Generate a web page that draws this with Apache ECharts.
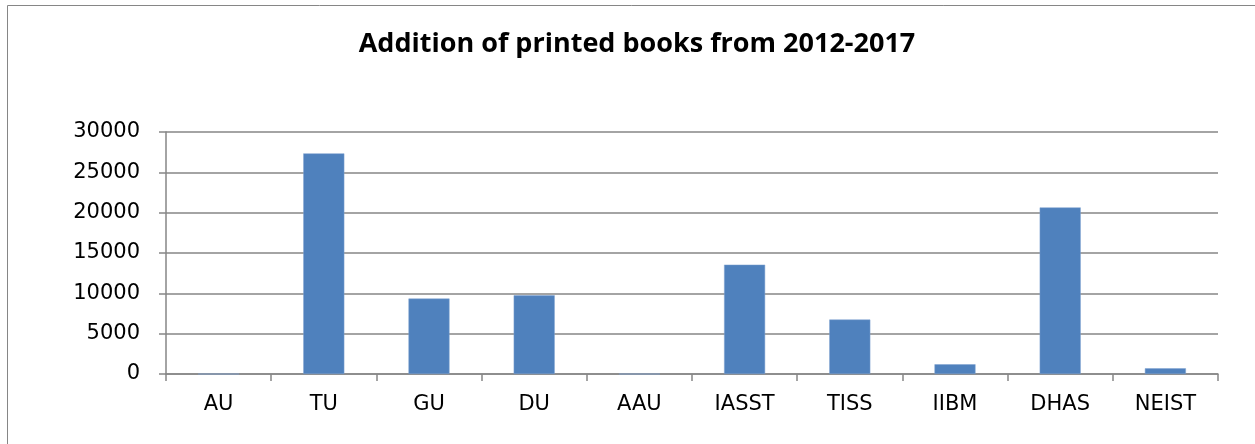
<!DOCTYPE html>
<html>
<head>
<meta charset="utf-8">
<script src="https://cdn.jsdelivr.net/npm/echarts@6/dist/echarts.min.js"></script>
<style>
html,body{margin:0;padding:0;background:#fff;}
#c{width:1255px;height:444px;}
</style>
</head>
<body>
<div id="c"></div>
<script>
var titleText = 'Addition of printed books from 2012-2017';
var categories = ['AU','TU','GU','DU','AAU','IASST','TISS','IIBM','DHAS','NEIST'];
var values = [0, 27350, 9350, 9750, 0, 13550, 6750, 1200, 20650, 700];
var yTicks = [0, 5000, 10000, 15000, 20000, 25000, 30000];

var chart = echarts.init(document.getElementById('c'), null, {renderer:'canvas'});
chart.setOption({
  animation: false,
  backgroundColor: '#ffffff',
  title: {
    text: titleText,
    left: 632,
    top: 26,
    textAlign: 'center',
    textStyle: {fontFamily: 'Open Sans', fontWeight: 'bold', fontSize: 27, color: '#000'}
  },
  graphic: [
    {type:'line', shape:{x1:7.5,y1:5.5,x2:7.5,y2:444}, style:{stroke:'#868686', lineWidth:1}},
    {type:'line', shape:{x1:7.5,y1:5.5,x2:1255,y2:5.5}, style:{stroke:'#868686', lineWidth:1}}
  ],
  grid: {left:166, right:37, top:132, bottom:70, containLabel:false},
  xAxis: {
    type: 'category',
    data: categories,
    boundaryGap: true,
    axisLine: {lineStyle:{color:'#868686', width:1.5}},
    axisTick: {show:true, length:7, lineStyle:{color:'#868686', width:1.5}},
    axisLabel: {margin:20, color:'#000', fontFamily:'DejaVu Sans', fontSize:21}
  },
  yAxis: {
    type: 'value',
    min: 0, max: 30000, interval: 5000,
    axisLine: {show:true, lineStyle:{color:'#868686', width:1.5}},
    axisTick: {show:true, length:7, lineStyle:{color:'#868686', width:1.5}},
    splitLine: {show:true, lineStyle:{color:'#868686', width:1.5}},
    axisLabel: {margin:26, color:'#000', fontFamily:'DejaVu Sans', fontSize:21,
      formatter: function(v){ return yTicks.indexOf(v) >= 0 ? String(v) : ''; }}
  },
  series: [{
    type: 'bar',
    data: values,
    barWidth: '39%',
    itemStyle: {color:'#4F81BD', borderColor:'#7EA3D1', borderWidth:0.5}
  }]
});
</script>
</body>
</html>
